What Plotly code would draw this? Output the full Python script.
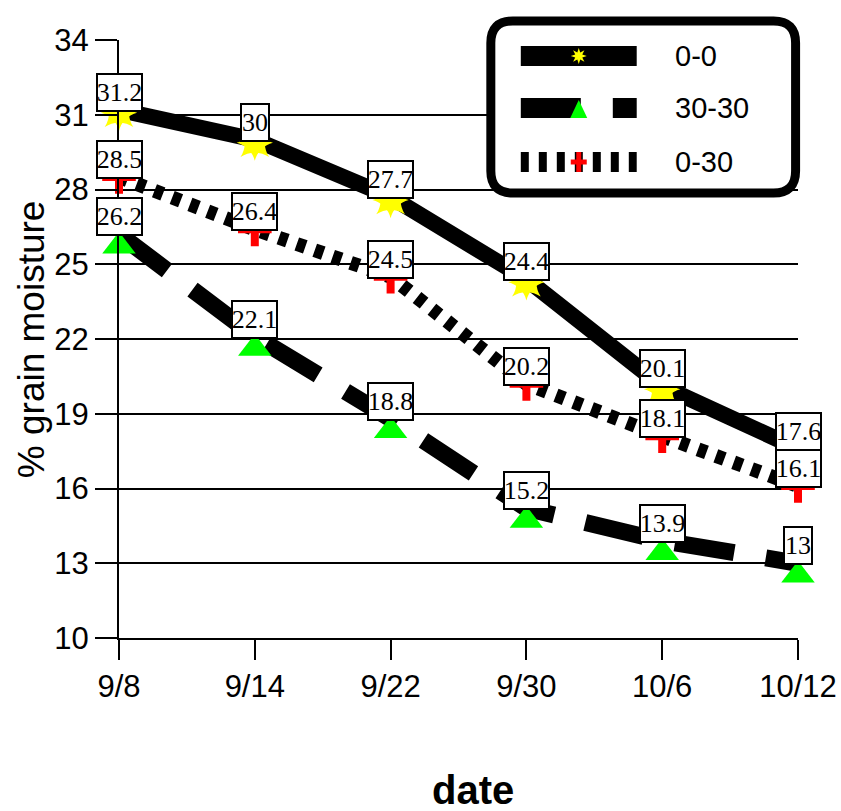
import math
import plotly.graph_objects as go

# ---- data ----
dates = ["9/8", "9/14", "9/22", "9/30", "10/6", "10/12"]
s_00 = [31.2, 30, 27.7, 24.4, 20.1, 17.6]
s_3030 = [26.2, 22.1, 18.8, 15.2, 13.9, 13]
s_030 = [28.5, 26.4, 24.5, 20.2, 18.1, 16.1]
series_names = ["0-0", "30-30", "0-30"]
y_ticks = [10, 13, 16, 19, 22, 25, 28, 31, 34]

# ---- geometry (target pixel positions; page is squeezed horizontally by ~841/849) ----
TW, H = 841, 811
W = 849
KX = W / TW
PL, PR, T, B = 118, 797, 40, 173   # target plot left/right px, top/bottom margins
L = round(PL * KX)
R = W - round(PR * KX)
PW = W - L - R
PH = H - T - B


def px(x):
    return (x * KX - L) / PW


def py(y):
    return (H - B - y) / PH


fig = go.Figure()

# 0-0 series: solid thick line with yellow 8-point star markers
fig.add_trace(go.Scatter(x=dates, y=s_00, mode="lines", cliponaxis=False,
                         line=dict(color="black", width=16), showlegend=False))
for sym in ["star-diamond", "star-square"]:
    fig.add_trace(go.Scatter(x=dates, y=s_00, mode="markers", showlegend=False,
                             cliponaxis=False,
                             marker=dict(symbol=sym, size=26, color="#FFFF00",
                                         standoff=3, line=dict(width=0))))

# 30-30 series: long dash, green triangles
fig.add_trace(go.Scatter(x=dates, y=s_3030, mode="lines", cliponaxis=False,
                         line=dict(color="black", width=17, dash="60px,32px"),
                         showlegend=False))
fig.add_trace(go.Scatter(x=dates, y=s_3030, mode="markers", showlegend=False,
                         cliponaxis=False,
                         marker=dict(symbol="triangle-up", size=29, color="#00FF00",
                                     standoff=12, line=dict(width=0))))

# 0-30 series: square dots, red crosses
fig.add_trace(go.Scatter(x=dates, y=s_030, mode="lines", cliponaxis=False,
                         line=dict(color="black", width=14, dash="9px,10px"),
                         showlegend=False))
fig.add_trace(go.Scatter(x=dates, y=s_030, mode="markers", showlegend=False,
                         cliponaxis=False,
                         marker=dict(symbol="cross-thin", size=24, color="red",
                                     line=dict(width=8, color="red"))))

annotations = []
for vals in [s_00, s_3030, s_030]:
    for d, v in zip(dates, vals):
        txt = f"{v:g}"
        annotations.append(dict(
            x=d, y=v, xref="x", yref="y", text=txt, showarrow=False,
            xanchor="center", yanchor="bottom", yshift=-2,
            width=43 if len(txt) > 2 else 26, height=35,
            bgcolor="white", bordercolor="black", borderwidth=2, borderpad=0,
            font=dict(family="Liberation Serif", size=26, color="black")))

# axis titles
annotations.append(dict(x=px(30), y=py(339), xref="paper", yref="paper",
                        text="% grain moisture", textangle=-90, showarrow=False,
                        xanchor="center", yanchor="middle",
                        font=dict(family="Liberation Sans", size=37, color="black")))
annotations.append(dict(x=px(472), y=py(790), xref="paper", yref="paper",
                        text="<b>date</b>", showarrow=False,
                        xanchor="center", yanchor="middle",
                        font=dict(family="Liberation Sans", size=40, color="black")))

# ---- legend (drawn) ----
shapes = []
x0, x1, y0, y1, r = 490, 795, 21, 193, 22
pts = [("M", x0 + r, y0), ("L", x1 - r, y0), ("Q", x1, y0, x1, y0 + r),
       ("L", x1, y1 - r), ("Q", x1, y1, x1 - r, y1), ("L", x0 + r, y1),
       ("Q", x0, y1, x0, y1 - r), ("L", x0, y0 + r), ("Q", x0, y0, x0 + r, y0)]
path = ""
for p in pts:
    cmd = p[0]
    coords = p[1:]
    s = []
    for i in range(0, len(coords), 2):
        s.append(f"{px(coords[i]):.5f},{py(coords[i+1]):.5f}")
    path += cmd + " ".join(s) + " "
path += "Z"
shapes.append(dict(type="path", path=path, xref="paper", yref="paper",
                   fillcolor="white", line=dict(color="black", width=9), layer="above"))

leg_y = [56, 108, 162]
leg_dash = ["solid", "60px,32px", "8px,10px"]
for yy, dd in zip(leg_y, leg_dash):
    shapes.append(dict(type="line", xref="paper", yref="paper",
                       x0=px(520), x1=px(636), y0=py(yy), y1=py(yy),
                       line=dict(color="black", width=20, dash=dd), layer="above"))


def poly(points):
    return "M" + " L".join(f"{px(a):.5f},{py(b):.5f}" for a, b in points) + " Z"


# star
cx, cy = 578, 56
star = []
for k in range(16):
    ang = math.pi / 8 * k
    rr = 8 if k % 2 == 0 else 3.8
    star.append((cx + rr * math.sin(ang), cy - rr * math.cos(ang)))
shapes.append(dict(type="path", path=poly(star), xref="paper", yref="paper",
                   fillcolor="#FFFF00", line=dict(width=0), layer="above"))
# triangle
shapes.append(dict(type="path", path=poly([(569.5, 118), (586.5, 118), (578, 100)]),
                   xref="paper", yref="paper", fillcolor="#00FF00",
                   line=dict(width=0), layer="above"))
# cross
shapes.append(dict(type="path", path=poly([(575.5, 152), (580.5, 152), (580.5, 172), (575.5, 172)]),
                   xref="paper", yref="paper", fillcolor="red", line=dict(width=0), layer="above"))
shapes.append(dict(type="path", path=poly([(570, 159.5), (586, 159.5), (586, 164.5), (570, 164.5)]),
                   xref="paper", yref="paper", fillcolor="red", line=dict(width=0), layer="above"))

for yy, name in zip(leg_y, series_names):
    annotations.append(dict(x=px(672), y=py(yy), xref="paper", yref="paper",
                            text=name, showarrow=False, xanchor="left", yanchor="middle",
                            font=dict(family="Liberation Sans", size=29, color="black")))

fig.update_layout(
    width=W, height=H,
    margin=dict(l=L, r=R, t=T, b=B, pad=0),
    paper_bgcolor="white", plot_bgcolor="white",
    showlegend=False,
    shapes=shapes, annotations=annotations,
    xaxis=dict(type="category", range=[0, 5], showgrid=False, showline=True,
               linecolor="black", linewidth=2, ticks="outside", ticklen=20,
               tickwidth=2, tickcolor="black", zeroline=False,
               tickfont=dict(family="Liberation Sans", size=31, color="black")),
    yaxis=dict(range=[10, 34], tickvals=y_ticks, showgrid=True, gridcolor="black",
               gridwidth=2, showline=True, linecolor="black", linewidth=2,
               ticks="outside", ticklen=22, tickwidth=2, tickcolor="black",
               zeroline=False,
               tickfont=dict(family="Liberation Sans", size=31, color="black")),
)

fig.write_html("out.html", config={"displayModeBar": False},
               post_script="document.body.style.margin='0px';document.body.style.overflow='hidden';")
